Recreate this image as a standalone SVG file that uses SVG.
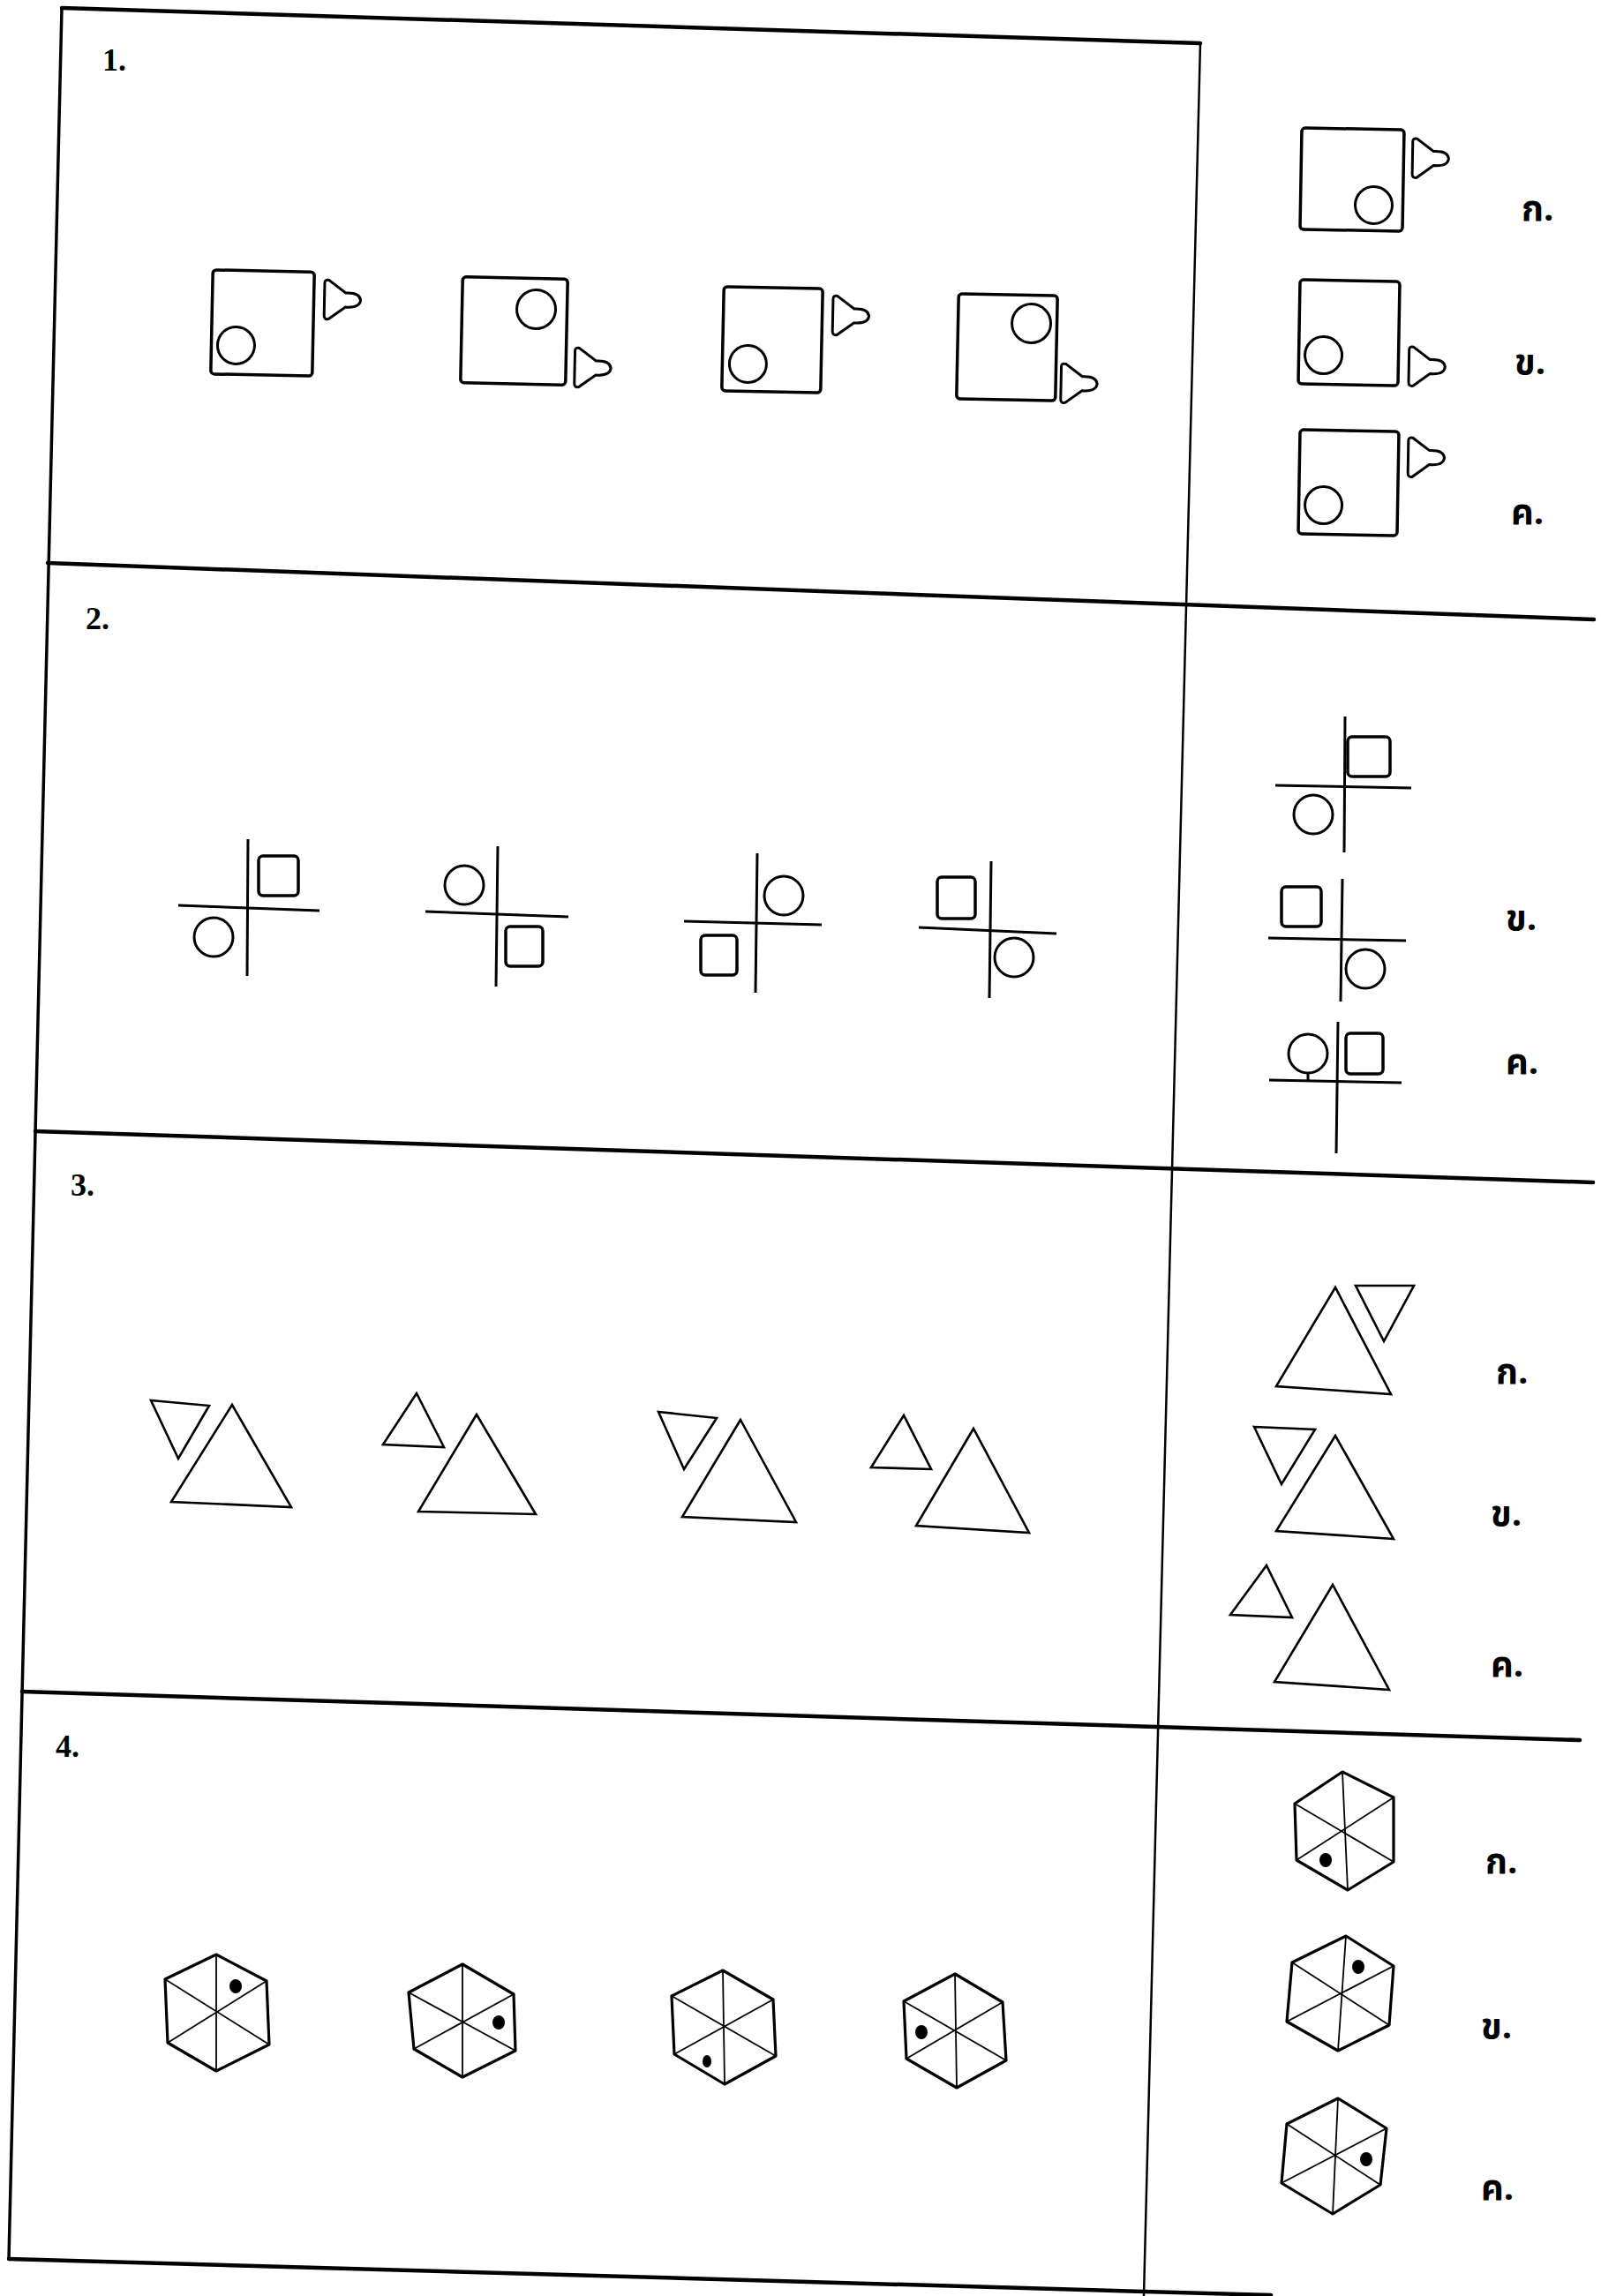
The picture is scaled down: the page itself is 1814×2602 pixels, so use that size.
<svg xmlns="http://www.w3.org/2000/svg" xmlns:xlink="http://www.w3.org/1999/xlink" width="1814" height="2602" viewBox="0 0 1814 2602">
<style>
.frame{stroke:#000;fill:none;stroke-linecap:round}
.h{stroke-width:4.5}
.v{stroke-width:3.5}
.vd{stroke-width:2.5}
.sq{fill:none;stroke:#000;stroke-width:3.5}
.ln{fill:none;stroke:#000;stroke-width:3}
.tri{fill:none;stroke:#000;stroke-width:2.6;stroke-linejoin:miter}
.hex{fill:none;stroke:#000;stroke-width:3.2;stroke-linejoin:round}
.spk{stroke:#000;stroke-width:1.8}
.dot{fill:#000}
.num{font-family:'Liberation Serif',serif;font-weight:bold;font-size:36px;fill:#000}
.opt{font-family:'Noto Sans Thai','Noto Serif Thai','Loma','Garuda','Noto Sans','DejaVu Sans',sans-serif;font-size:40px;font-weight:bold;fill:#000}
</style>
<defs>
<path id="bell" d="M0,4 Q0,0 5,1 L24,15 Q40,14 41,23 Q40,32 24,31 L5,45 Q0,46 0,41 Z" fill="none" stroke="#000" stroke-width="3"/>
</defs>
<rect x="0" y="0" width="1814" height="2602" fill="#fff"/>

<g id="connectors">
<line class="frame h" x1="70" y1="9" x2="1360" y2="49"/>
<line class="frame v" x1="70" y1="9" x2="10" y2="2560"/>
<line class="frame vd" x1="1360" y1="49" x2="1296" y2="2602"/>
<line class="frame h" x1="54" y1="638" x2="1806" y2="702"/>
<line class="frame h" x1="40" y1="1282" x2="1805" y2="1340"/>
<line class="frame h" x1="25" y1="1917" x2="1790" y2="1972"/>
<line class="frame h" x1="10" y1="2560" x2="1440" y2="2601"/>
</g>

<g id="labels">
<text class="num" x="116" y="80">1.</text>
<text class="num" x="97" y="713">2.</text>
<text class="num" x="80" y="1355">3.</text>
<text class="num" x="63" y="1991">4.</text>
<text class="opt" x="1724" y="250">ก.</text>
<text class="opt" x="1716" y="424">ข.</text>
<text class="opt" x="1712" y="594">ค.</text>
<text class="opt" x="1706" y="1054">ข.</text>
<text class="opt" x="1706" y="1217">ค.</text>
<text class="opt" x="1695" y="1568">ก.</text>
<text class="opt" x="1689" y="1729">ข.</text>
<text class="opt" x="1689" y="1900">ค.</text>
<text class="opt" x="1683" y="2123">ก.</text>
<text class="opt" x="1678" y="2310">ข.</text>
<text class="opt" x="1678" y="2493">ค.</text>
</g>

<!-- Section 1 -->
<g id="s1-f1" transform="rotate(1.2 297 366)">
<rect class="sq" x="240" y="307" width="115" height="118" rx="4"/>
<circle class="ln" cx="268" cy="392" r="21"/>
<use xlink:href="#bell" x="367" y="315"/>
</g>
<g id="s1-f2" transform="rotate(1.2 582 375)">
<rect class="sq" x="523" y="315" width="119" height="120" rx="4"/>
<circle class="ln" cx="607" cy="350" r="22"/>
<use xlink:href="#bell" x="652" y="392"/>
</g>
<g id="s1-f3" transform="rotate(1.2 875 385)">
<rect class="sq" x="819" y="326" width="112" height="118" rx="4"/>
<circle class="ln" cx="848" cy="413" r="21"/>
<use xlink:href="#bell" x="943" y="333"/>
</g>
<g id="s1-f4" transform="rotate(1.2 1141 393)">
<rect class="sq" x="1085" y="334" width="112" height="119" rx="4"/>
<circle class="ln" cx="1168" cy="366" r="22"/>
<use xlink:href="#bell" x="1203" y="410"/>
</g>
<g id="s1-oa" transform="rotate(1 1532 203)">
<rect class="sq" x="1474" y="146" width="116" height="115" rx="4"/>
<circle class="ln" cx="1557" cy="232" r="21"/>
<use xlink:href="#bell" x="1600" y="155"/>
</g>
<g id="s1-ob" transform="rotate(1 1528 377)">
<rect class="sq" x="1472" y="318" width="113" height="118" rx="4"/>
<circle class="ln" cx="1500" cy="403" r="21"/>
<use xlink:href="#bell" x="1597" y="391"/>
</g>
<g id="s1-oc" transform="rotate(1 1528 547)">
<rect class="sq" x="1472" y="488" width="112" height="118" rx="4"/>
<circle class="ln" cx="1500" cy="573" r="21"/>
<use xlink:href="#bell" x="1595" y="494"/>
</g>

<!-- Section 2 -->
<g id="s2-f1">
<line class="ln" x1="281" y1="951" x2="280" y2="1106"/>
<line class="ln" x1="202" y1="1026" x2="362" y2="1032"/>
<rect class="sq" x="293" y="970" width="45" height="45" rx="5" stroke-width="3"/>
<circle class="ln" cx="242" cy="1062" r="22"/>
</g>
<g id="s2-f2">
<line class="ln" x1="564" y1="959" x2="562" y2="1118"/>
<line class="ln" x1="482" y1="1033" x2="644" y2="1039"/>
<circle class="ln" cx="526" cy="1003" r="22"/>
<rect class="sq" x="573" y="1050" width="42" height="45" rx="5" stroke-width="3"/>
</g>
<g id="s2-f3">
<line class="ln" x1="858" y1="967" x2="856" y2="1125"/>
<line class="ln" x1="775" y1="1044" x2="931" y2="1048"/>
<circle class="ln" cx="888" cy="1015" r="22"/>
<rect class="sq" x="794" y="1060" width="41" height="45" rx="5" stroke-width="3"/>
</g>
<g id="s2-f4">
<line class="ln" x1="1123" y1="976" x2="1121" y2="1131"/>
<line class="ln" x1="1041" y1="1051" x2="1197" y2="1058"/>
<rect class="sq" x="1062" y="994" width="43" height="47" rx="5" stroke-width="3"/>
<circle class="ln" cx="1149" cy="1085" r="22"/>
</g>
<g id="s2-oa">
<line class="ln" x1="1524" y1="812" x2="1523" y2="966"/>
<line class="ln" x1="1445" y1="890" x2="1599" y2="893"/>
<rect class="sq" x="1527" y="835" width="48" height="45" rx="5" stroke-width="3"/>
<circle class="ln" cx="1488" cy="923" r="22"/>
</g>
<g id="s2-ob">
<line class="ln" x1="1521" y1="996" x2="1519" y2="1135"/>
<line class="ln" x1="1437" y1="1063" x2="1593" y2="1066"/>
<rect class="sq" x="1452" y="1005" width="45" height="45" rx="5" stroke-width="3"/>
<circle class="ln" cx="1547" cy="1098" r="22"/>
</g>
<g id="s2-oc">
<line class="ln" x1="1516" y1="1158" x2="1514" y2="1307"/>
<line class="ln" x1="1438" y1="1224" x2="1588" y2="1227"/>
<circle class="ln" cx="1482" cy="1194" r="22"/>
<line class="ln" x1="1482" y1="1216" x2="1482" y2="1224"/>
<rect class="sq" x="1525" y="1171" width="42" height="46" rx="5" stroke-width="3"/>
</g>

<!-- Section 3 -->
<g id="s3-f1">
<polygon class="tri" points="171,1587 237,1593 202,1653"/>
<polygon class="tri" points="263,1592 194,1702 330,1708"/>
</g>
<g id="s3-f2">
<polygon class="tri" points="472,1579 434,1637 503,1640"/>
<polygon class="tri" points="540,1603 474,1713 607,1716"/>
</g>
<g id="s3-f3">
<polygon class="tri" points="746,1600 812,1607 775,1665"/>
<polygon class="tri" points="839,1609 773,1719 902,1725"/>
</g>
<g id="s3-f4">
<polygon class="tri" points="1024,1604 987,1663 1055,1665"/>
<polygon class="tri" points="1103,1619 1038,1729 1166,1737"/>
</g>
<g id="s3-oa">
<polygon class="tri" points="1513,1459 1446,1571 1576,1580"/>
<polygon class="tri" points="1536,1457 1602,1457 1568,1520"/>
</g>
<g id="s3-ob">
<polygon class="tri" points="1421,1617 1490,1620 1452,1682"/>
<polygon class="tri" points="1513,1627 1446,1735 1579,1744"/>
</g>
<g id="s3-oc">
<polygon class="tri" points="1435,1774 1394,1830 1464,1833"/>
<polygon class="tri" points="1510,1796 1444,1906 1574,1915"/>
</g>

<!-- Section 4 -->
<g id="s4-f1">
<polygon class="hex" points="245,2215 302,2245 305,2317 245,2347 190,2315 187,2243"/>
<line class="spk" x1="245" y1="2215" x2="245" y2="2347"/>
<line class="spk" x1="187" y1="2243" x2="305" y2="2317"/>
<line class="spk" x1="302" y1="2245" x2="190" y2="2315"/>
<ellipse class="dot" cx="267" cy="2251" rx="7" ry="8"/>
</g>
<g id="s4-f2">
<polygon class="hex" points="524,2226 582,2260 584,2324 524,2354 469,2322 463,2258"/>
<line class="spk" x1="524" y1="2226" x2="524" y2="2354"/>
<line class="spk" x1="463" y1="2258" x2="584" y2="2324"/>
<line class="spk" x1="582" y1="2260" x2="469" y2="2322"/>
<ellipse class="dot" cx="565" cy="2292" rx="7" ry="8"/>
</g>
<g id="s4-f3">
<polygon class="hex" points="819,2233 876,2266 879,2330 821,2362 764,2328 761,2262"/>
<line class="spk" x1="819" y1="2233" x2="821" y2="2362"/>
<line class="spk" x1="761" y1="2262" x2="879" y2="2330"/>
<line class="spk" x1="876" y1="2266" x2="764" y2="2328"/>
<ellipse class="dot" cx="801" cy="2336" rx="5" ry="7"/>
</g>
<g id="s4-f4">
<polygon class="hex" points="1082,2237 1136,2269 1140,2335 1084,2366 1027,2333 1024,2268"/>
<line class="spk" x1="1082" y1="2237" x2="1084" y2="2366"/>
<line class="spk" x1="1024" y1="2268" x2="1140" y2="2335"/>
<line class="spk" x1="1136" y1="2269" x2="1027" y2="2333"/>
<ellipse class="dot" cx="1044" cy="2303" rx="7" ry="8"/>
</g>
<g id="s4-oa">
<polygon class="hex" points="1521,2008 1579,2037 1579,2110 1527,2142 1469,2108 1467,2044"/>
<line class="spk" x1="1521" y1="2008" x2="1527" y2="2142"/>
<line class="spk" x1="1467" y1="2044" x2="1579" y2="2110"/>
<line class="spk" x1="1579" y1="2037" x2="1469" y2="2108"/>
<ellipse class="dot" cx="1502" cy="2108" rx="7" ry="8"/>
</g>
<g id="s4-ob">
<polygon class="hex" points="1525,2194 1579,2228 1574,2295 1516,2324 1458,2291 1464,2224"/>
<line class="spk" x1="1525" y1="2194" x2="1516" y2="2324"/>
<line class="spk" x1="1464" y1="2224" x2="1574" y2="2295"/>
<line class="spk" x1="1579" y1="2228" x2="1458" y2="2291"/>
<ellipse class="dot" cx="1539" cy="2229" rx="7" ry="8"/>
</g>
<g id="s4-oc">
<polygon class="hex" points="1516,2378 1571,2412 1564,2476 1510,2509 1452,2474 1458,2407"/>
<line class="spk" x1="1516" y1="2378" x2="1510" y2="2509"/>
<line class="spk" x1="1458" y1="2407" x2="1564" y2="2476"/>
<line class="spk" x1="1571" y1="2412" x2="1452" y2="2474"/>
<ellipse class="dot" cx="1548" cy="2447" rx="7" ry="8"/>
</g>
</svg>
